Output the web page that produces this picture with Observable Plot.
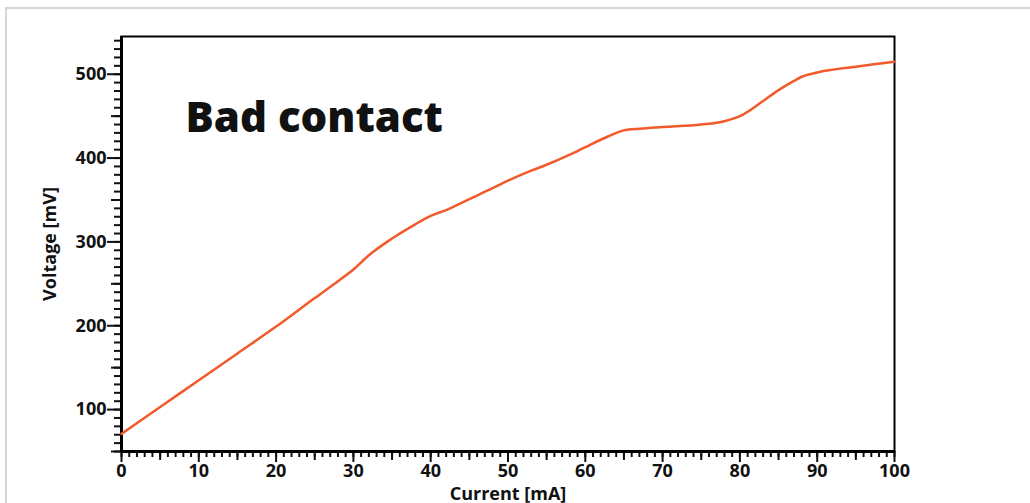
<!DOCTYPE html>
<html>
<head>
<meta charset="utf-8">
<script src="https://cdn.jsdelivr.net/npm/d3@7"></script>
<script src="https://cdn.jsdelivr.net/npm/@observablehq/plot@0.6"></script>
<style>
  html, body { margin: 0; padding: 0; background: #fff; overflow: hidden; }
  #wrap { position: relative; width: 1030px; height: 503px; overflow: hidden; }
  #box { position: absolute; left: 5px; top: 7px; width: 1100px; height: 600px; border: 2px solid #d6d6d6; box-sizing: border-box; }
  #chart { position: absolute; left: 0; top: 0; }
</style>
</head>
<body>
<div id="wrap"><div id="box"></div><div id="chart"></div></div>
<script>
const current = [0, 5, 10, 15, 20, 25, 28, 30, 32, 35, 38, 40, 42, 45, 48, 50, 53, 55, 58, 60, 63, 65, 67, 70, 75, 78, 80, 83, 85, 87, 88, 90, 95, 100];
const voltage = [71, 103, 135, 167, 199, 233, 253, 267, 284, 304, 321, 331, 338, 351, 364, 373, 385, 392, 404, 413, 426, 433, 435, 437, 440, 444, 450, 468, 481, 492, 497, 502, 509, 515];

const xMajorTicks = [0, 10, 20, 30, 40, 50, 60, 70, 80, 90, 100];
const xMidTicks = [5, 15, 25, 35, 45, 55, 65, 75, 85, 95];
const xMinorTicks = d3.range(0, 101, 1);
const yMajorTicks = [100, 200, 300, 400, 500];
const yMidTicks = [50, 150, 250, 350, 450];
const yMinorTicks = d3.range(50, 541, 10);

const titleText = "Bad contact";
const xLabel = "Current [mA]";
const yLabel = "Voltage [mV]";

const data = current.map((c, i) => ({current: c, voltage: voltage[i]}));

const chart = Plot.plot({
  width: 1030,
  height: 503,
  marginLeft: 121,
  marginRight: 136,
  marginTop: 36,
  marginBottom: 52,
  x: {domain: [0, 100]},
  y: {domain: [50, 545]},
  style: {fontFamily: "'Open Sans', sans-serif", fontSize: "18px", fontWeight: "bold", color: "#111", background: "transparent", overflow: "visible"},
  marks: [
    Plot.axisX({ticks: xMinorTicks, tickSize: 6, strokeWidth: 2, text: null, label: null}),
    Plot.axisX({ticks: xMidTicks, tickSize: 9, strokeWidth: 2, text: null, label: null}),
    Plot.axisX({ticks: xMajorTicks, tickSize: 11, strokeWidth: 2, tickPadding: 2, fontSize: 18, label: xLabel, labelAnchor: "center", labelArrow: "none", labelOffset: 48}),
    Plot.axisY({ticks: yMinorTicks, tickSize: 7, strokeWidth: 2, text: null, label: null}),
    Plot.axisY({ticks: yMidTicks, tickSize: 10, strokeWidth: 2, text: null, label: null}),
    Plot.axisY({ticks: yMajorTicks, tickSize: 14, strokeWidth: 2, tickPadding: 1, fontSize: 18, label: yLabel, labelAnchor: "center", labelArrow: "none", labelOffset: 78}),
    Plot.frame({stroke: "black", strokeWidth: 2}),
    Plot.ruleX([0], {stroke: "black", strokeWidth: 3}),
    Plot.ruleY([50], {stroke: "black", strokeWidth: 3}),
    Plot.line(data, {x: "current", y: "voltage", stroke: "#f15a2b", strokeWidth: 2.5, curve: "monotone-x"}),
    Plot.text([titleText], {frameAnchor: "top-left", dx: 64, dy: 95, text: d => d, textAnchor: "start", lineAnchor: "bottom", fontSize: 42, fontWeight: "800", fill: "#111"})
  ]
});
document.getElementById("chart").appendChild(chart);
</script>
</body>
</html>
